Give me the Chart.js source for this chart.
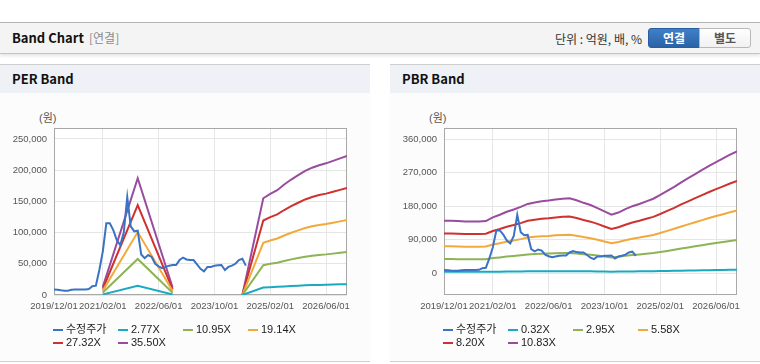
<!DOCTYPE html>
<html><head><meta charset="utf-8">
<script src="https://cdn.jsdelivr.net/npm/chart.js@4.4.0/dist/chart.umd.min.js"></script>
<style>
body{margin:0;width:760px;height:364px;overflow:hidden;background:#fff;position:relative;font-family:"Liberation Sans","Noto Sans CJK KR",sans-serif}
.hdr{position:absolute;left:0;top:22px;width:760px;height:30px;background:#f4f4f4;border-top:1px solid #b4b4b4;border-bottom:1px solid #c4c4c4;box-shadow:0 2px 3px rgba(0,0,0,0.10)}
.hdr .t{position:absolute;left:12px;top:7px;line-height:16px;font:bold 13px/16px "Noto Sans CJK KR",sans-serif;color:#111}
.hdr .s{position:absolute;left:89px;top:7px;font:12px/16px "Noto Sans CJK KR",sans-serif;color:#8a8a8a}
.hdr .u{position:absolute;right:118px;top:8px;font:12px/16px "Noto Sans CJK KR",sans-serif;color:#333}
.btn{position:absolute;top:5px;height:18px;width:50px;text-align:center;font:bold 12px/18px "Noto Sans CJK KR",sans-serif}
.b1{left:648px;background:linear-gradient(#3f80c8,#2a63a6);border:1px solid #2a5d9c;color:#fff;border-radius:3px 0 0 3px}
.b2{left:699px;background:linear-gradient(#ffffff,#f1f1f1);border:1px solid #b8b8b8;color:#555;border-radius:0 3px 3px 0}
.panel{position:absolute;top:64px;width:370px;height:297px;background:#fcfcfc;border-bottom:1px solid #cfcfcf}
.ptitle{position:absolute;left:0;top:0;width:370px;height:28px;background:#eef2f7;border-top:1px solid #cfcfcf}
.ptitle span{position:absolute;left:12px;top:6px;font:bold 13px/16px "Noto Sans CJK KR",sans-serif;color:#111}
.panel canvas{position:absolute;left:0;top:29px}
.unit{position:absolute;left:39px;top:47px;font:11px/14px "Liberation Sans","Noto Sans CJK KR",sans-serif;color:#555}
.lg{position:absolute;font:11px/13px "Liberation Sans","Noto Sans CJK KR",sans-serif;color:#222;white-space:nowrap}
.lg i{position:absolute;left:0;top:6px;width:10px;height:2px}
.lg b{font-weight:normal;position:absolute;left:13px;top:0}
</style></head>
<body>
<div class="hdr"><div class="t">Band Chart</div><div class="s">[연결]</div><div class="u">단위 : 억원, 배, %</div>
<div class="btn b1">연결</div><div class="btn b2">별도</div></div>

<div class="panel" id="p1" style="left:0"><div class="ptitle"><span>PER Band</span></div><div class="unit">(원)</div><canvas id="c1" width="370" height="268"></canvas></div>
<div class="panel" id="p2" style="left:390px"><div class="ptitle"><span>PBR Band</span></div><div class="unit">(원)</div><canvas id="c2" width="370" height="268"></canvas></div>

<script>
// x values are month offsets from 2019/12
const tickIdx = [0, 14, 30, 46, 62, 78];
const tickLabels = ['2019/12/01','2021/02/01','2022/06/01','2023/10/01','2025/02/01','2026/06/01'];

// 수정주가, monthly from 2019/12
const price = [9000,8500,7500,7000,7000,8500,9000,9000,9000,9000,9500,14000,15000,40000,70000,115000,115000,104000,88000,80000,
  100000,157000,110000,102000,103000,65000,59000,64000,61000,50000,46000,43000,45000,47000,48000,48000,56000,60000,57000,56000,
  56000,49000,42000,38000,45000,45000,47000,47500,48000,40000,45000,47000,50000,56000,58000,47000];

// PER band
const perLabels = ['2.77X','10.95X','19.14X','27.32X','35.50X'];
const perX   = [14, 24, 34, 44, 54, 60, 62, 64, 66, 68, 70, 72, 74, 76, 78, 80, 82, 84];
const per277  = [1000,14600,940,null,0,12100,12600,13100,13800,14400,15000,15500,15900,16200,16500,16800,17100,17400];
const per1095 = [4000,57700,3700,null,0,47800,50000,51800,54600,57100,59200,61400,62900,64200,65100,66300,67600,68800];
const per1914 = [7000,100800,6500,null,0,83500,87300,90600,95400,99700,103500,107300,110000,112100,113700,115900,118000,120200];
const per2732 = [10000,144000,9200,null,0,119300,124700,129300,136200,142400,147800,153100,157000,160100,162400,165500,168500,171600];
const per3550 = [13000,187000,12000,null,0,155000,162000,168000,177000,185000,192000,199000,204000,208000,211000,215000,219000,223000];
const perTicks = [0,50000,100000,150000,200000,250000];

// PBR band
const pbrLabels = ['0.32X','2.95X','5.58X','8.20X','10.83X'];
const pbrX = [0,2,4,6,8,10,12,14,16,18,20,22,24,26,28,30,32,34,36,38,40,42,44,46,48,50,52,54,56,58,60,62,64,66,68,70,72,74,76,78,80,82,84];
const pbr032 = [4200,4200,4100,4100,4100,4100,4100,4400,4600,4900,5100,5300,5500,5600,5700,5800,5900,5900,5900,5800,5600,5400,5200,4900,4600,4800,5100,5300,5500,5700,5900,6200,6500,6900,7200,7500,7900,8200,8500,8800,9100,9400,9700];
const pbr295 = [38400,38400,38100,37900,37900,37900,38100,40900,42800,44900,46600,48500,50700,51800,52600,53100,53900,54500,54800,53400,51500,49800,47700,45200,42800,44400,46900,49000,50700,52600,54500,57200,60200,63200,66500,69500,72500,75500,78500,81200,83900,86600,89100];
const pbr558 = [72600,72600,72100,71600,71600,71600,72100,77300,80900,85000,88100,91700,95800,97900,99400,100400,102000,103000,103500,100900,97300,94200,90100,85500,80900,83900,88600,92700,95800,99400,103000,108200,113800,119500,125700,131300,137000,142700,148300,153500,158600,163800,168400];
const pbr820 = [106700,106700,106000,105200,105200,105200,106000,113500,118800,124900,129400,134700,140800,143800,146100,147600,149900,151400,152200,148400,143100,138500,132500,125700,118800,123400,130200,136300,140800,146100,151400,159000,167300,175600,184700,193000,201400,209700,218000,225600,233200,240700,247500];
const pbr1083 = [141000,141000,140000,139000,139000,139000,140000,150000,157000,165000,171000,178000,186000,190000,193000,195000,198000,200000,201000,196000,189000,183000,175000,166000,157000,163000,172000,180000,186000,193000,200000,210000,221000,232000,244000,255000,266000,277000,288000,298000,308000,318000,327000];
const pbrTicks = [0,90000,180000,270000,360000];

const colors = ['#3a72c4','#1ba9c1','#8db355','#f2a93c','#cf3130','#994c9e'];
const FONT = '"Liberation Sans","Noto Sans CJK KR",sans-serif';

const frame = {
  id:'frame',
  beforeDraw(c){const a=c.chartArea,x=c.ctx;x.save();x.fillStyle='#ffffff';x.fillRect(a.left,a.top,a.width,a.height);x.restore();},
  beforeDatasetsDraw(c){const a=c.chartArea,x=c.ctx;x.save();x.strokeStyle='#a8a8a8';x.lineWidth=1;
    x.strokeRect(Math.round(a.left)+0.5,Math.round(a.top)+0.5,Math.round(a.width)-1,Math.round(a.height)-1);x.restore();}
};

function pts(xs, ys){ return xs.map((v,i)=>({x:v, y:ys[i]})); }

function build(canvasId, panelId, bandX, bands, labels, yMin, yMax, yTicks){
  const datasets = [{label:'수정주가', data: price.map((v,i)=>({x:i,y:v})), borderColor:colors[0]}];
  bands.forEach((b,i)=>datasets.push({label:labels[i], data:pts(bandX,b), borderColor:colors[i+1]}));
  datasets.forEach(d=>{d.borderWidth=2;d.pointRadius=0;d.tension=0;d.spanGaps=false;d.fill=false;d.backgroundColor=d.borderColor;});
  const chart = new Chart(document.getElementById(canvasId), {
    type:'line',
    data:{datasets},
    plugins:[frame],
    options:{
      responsive:false, animation:false, devicePixelRatio:1,
      layout:{padding:{top:35,right:23,left:0,bottom:0}},
      plugins:{legend:{display:false}, tooltip:{enabled:false}},
      scales:{
        x:{type:'linear', min:0, max:84,
          afterBuildTicks:s=>{s.ticks=tickIdx.map(v=>({value:v}));},
          afterFit:s=>{s.height=66;},
          grid:{color:'#e6e6e6', drawTicks:false}, border:{display:false},
          ticks:{autoSkip:false, maxRotation:0, padding:6, color:'#555', font:{family:FONT,size:9.5},
            callback:(v,i)=>tickLabels[i]}},
        y:{min:yMin, max:yMax,
          afterBuildTicks:s=>{s.ticks=yTicks.map(v=>({value:v}));},
          afterFit:s=>{s.width=54;},
          grid:{color:'#e6e6e6', drawTicks:false}, border:{display:false},
          ticks:{padding:7, color:'#555', font:{family:FONT,size:9.5}, callback:v=>v.toLocaleString('en-US')}}
      }
    }
  });
  // HTML legend from the chart's datasets
  const panel = document.getElementById(panelId);
  chart.data.datasets.forEach((d,i)=>{
    const el = document.createElement('div');
    el.className='lg';
    el.style.left = (53 + (i%4)*65) + 'px';
    el.style.top = (i<4 ? 259 : 272) + 'px';
    el.innerHTML = '<i style="background:'+d.borderColor+'"></i><b>'+d.label+'</b>';
    panel.appendChild(el);
  });
}

build('c1','p1', perX, [per277,per1095,per1914,per2732,per3550], perLabels, 0, 267600, perTicks);
build('c2','p2', pbrX, [pbr032,pbr295,pbr558,pbr820,pbr1083], pbrLabels, -58000, 389500, pbrTicks);
</script>
</body></html>
